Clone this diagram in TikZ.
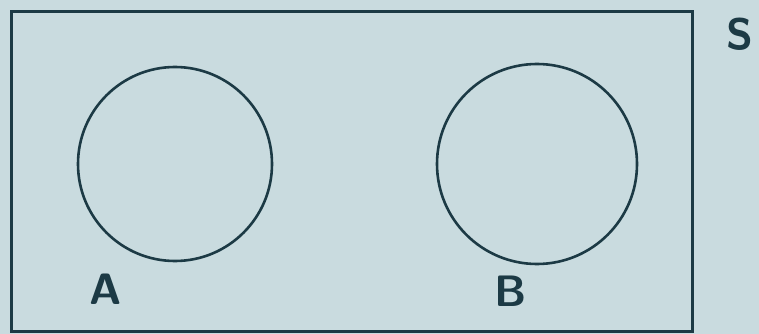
\documentclass[tikz,border=0pt]{standalone}
\definecolor{bg}{HTML}{C9DBDF}
\definecolor{ink}{HTML}{1C3A45}
\begin{document}
\begin{tikzpicture}[x=1pt,y=-1pt,
  outline/.style={draw=ink,line width=3pt},
  setc/.style={draw=ink,line width=2.6pt,circle,inner sep=0pt},
  lbl/.style={text=ink,font=\sffamily\bfseries\fontsize{44}{44}\selectfont,inner sep=0pt}]
\fill[bg] (0,0) rectangle (759,334);
\useasboundingbox (0,0) rectangle (759,334);
\node[outline,minimum width=681pt,minimum height=320pt,inner sep=0pt,anchor=north west] (S) at (10,10) {};
\node[setc,minimum size=194pt] (A) at (175,164) {};
\node[setc,minimum size=200pt] (B) at (537,164) {};
\node[lbl] (la) at (106,289) {A};
\node[lbl] (lb) at (511,291) {B};
\node[lbl] (ls) at (740,34) {S};
\end{tikzpicture}
\end{document}
